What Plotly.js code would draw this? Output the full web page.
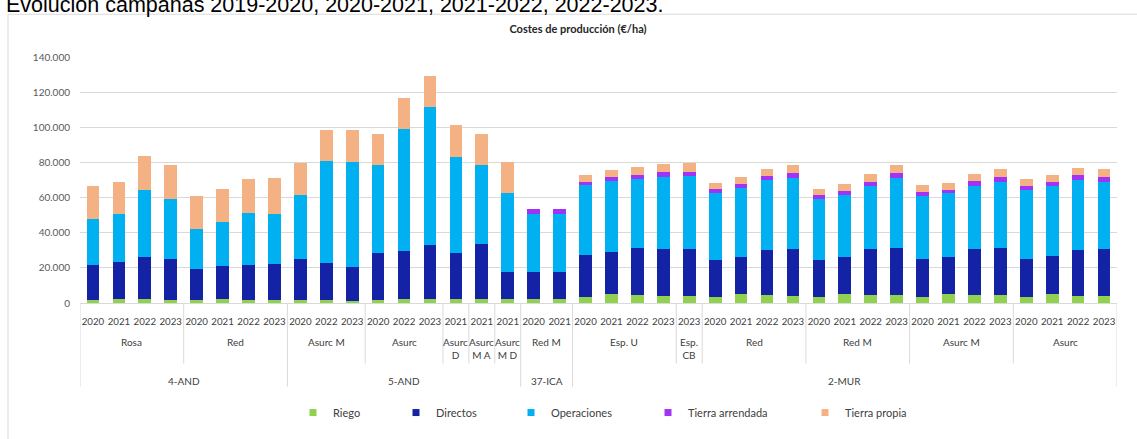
<!DOCTYPE html>
<html><head><meta charset="utf-8">
<script src="https://cdn.plot.ly/plotly-3.0.1.min.js"></script>
<style>html,body{margin:0;padding:0;background:#fff;overflow:hidden;}#chart{width:1137px;height:439px;}</style>
</head><body><div id="chart"></div>
<script>
// ---- data ----
const years = ['2020','2021','2022','2023', '2020','2021','2022','2023', '2020','2022','2023', '2020','2022','2023',
  '2021','2021','2021', '2020','2021', '2020','2021','2022','2023', '2023', '2020','2021','2022','2023',
  '2020','2021','2022','2023', '2020','2021','2022','2023', '2020','2021','2022','2023'];
const varieties = ['Rosa','Red','Asurc M','Asurc','Asurc<br>D','Asurc<br>M A','Asurc<br>M D','Red M','Esp. U','Esp.<br>CB','Red','Red M','Asurc M','Asurc'];
const varietyCounts = [4,4,3,3,1,1,1,2,4,1,4,4,4,4];
const regions = ['4-AND','5-AND','37-ICA','2-MUR'];
const regionCounts = [8,9,2,21];

const riego = [1500,2000,2000,1500, 1500,2000,1800,1500, 1500,1800,1300, 1800,2500,2500,
  2500,2200,2500, 2500,2500, 3300,5000,4400,4000, 4000, 3300,5000,4400,4000,
  3300,5000,4500,4400, 3300,5000,4500,4400, 3300,5000,4000,4000];
const directos = [20000,21300,24200,23800, 18000,18900,19700,20700, 23600,20700,19400, 26600,27100,30400,
  25700,31400,15300, 15300,15300, 24000,24100,26700,26500, 26900, 21100,21400,26000,26900,
  21100,21000,26000,26900, 21800,21400,26000,26900, 21800,21900,26400,26900];
const operaciones = [26100,27100,38300,33800, 22500,25100,30000,28700, 36500,58200,59800, 49900,69300,78400,
  55100,44900,44900, 32900,32900, 39600,40400,39400,41300, 41100, 38100,39100,39600,40400,
  34700,35500,35900,40000, 35800,36000,36200,37800, 39400,39600,39600,37800];
const tierraArrendada = [0,0,0,0, 0,0,0,0, 0,0,0, 0,0,0,
  0,0,0, 2900,2900, 1800,2100,2400,2600, 2500, 2200,2300,2400,2500,
  2200,2100,2500,2500, 2000,2100,2600,2700, 2200,2200,2700,2900];
const tierraPropia = [18800,18700,19100,19600, 18900,18700,19000,20000, 18200,18000,17900, 17900,17800,18000,
  18000,17900,17800, 0,0, 4000,3900,4400,4500, 5000, 3700,3700,4100,4600,
  3800,3900,4600,4700, 4000,3900,4300,4700, 3800,4000,4200,4600];

const seriesNames = ['Riego','Directos','Operaciones','Tierra arrendada','Tierra propia'];
const seriesValues = [riego, directos, operaciones, tierraArrendada, tierraPropia];
const seriesColors = ['#92d050','#1423a6','#00b0f0','#a033f5','#f4b183'];

// ---- geometry helpers (paper coords from page pixels) ----
const PL = 80, PW = 1037, PT = 57, PH = 256;
const px = X => (X - PL) / PW;
const py = Y => (PT + PH - Y) / PH;

const FONT = 'Lato, "Noto Sans", sans-serif';
const TXT = '#404040';
const LINE = '#d9d9d9';

const xIdx = years.map((_, i) => i);

const traces = [];
seriesNames.forEach((n, k) => {
  traces.push({
    type: 'bar', name: n, x: xIdx, y: seriesValues[k],
    marker: {color: seriesColors[k], line: {width: 0}},
    legendgroup: n, showlegend: false, hoverinfo: 'y+name'
  });
});
// legend entries (one legend per entry to match spacing)
const legendTextX = [333, 436, 551, 688, 845];
const legendKeys = ['legend','legend2','legend3','legend4','legend5'];
seriesNames.forEach((n, k) => {
  traces.push({
    type: 'scatter', mode: 'markers', name: n, x: [null], y: [null],
    marker: {symbol: 'square', size: 7, color: seriesColors[k]},
    legendgroup: n, showlegend: true, legend: legendKeys[k], hoverinfo: 'skip'
  });
});

const annotations = [];
const shapes = [];

// variety labels
let start = 0;
const varBounds = [];
varieties.forEach((v, i) => {
  const c = varietyCounts[i];
  annotations.push({
    text: v, xref: 'x', yref: 'paper', x: start + (c - 1) / 2, y: py(345),
    xanchor: 'center', yanchor: 'top', showarrow: false,
    font: {family: FONT, size: 10, color: TXT}
  });
  start += c;
  varBounds.push(start);
});
// region labels
start = 0;
const regBounds = [0];
regions.forEach((r, i) => {
  const c = regionCounts[i];
  annotations.push({
    text: r, xref: 'x', yref: 'paper', x: start + (c - 1) / 2, y: py(394),
    xanchor: 'center', yanchor: 'middle', showarrow: false,
    font: {family: FONT, size: 10, color: TXT}
  });
  start += c;
  regBounds.push(start);
});
// separators
varBounds.forEach(b => {
  if (regBounds.indexOf(b) === -1) {
    shapes.push({type: 'line', xref: 'x', yref: 'paper', x0: b - 0.5, x1: b - 0.5, y0: 0, y1: py(376),
      line: {color: LINE, width: 1}});
  }
});
regBounds.forEach(b => {
  shapes.push({type: 'line', xref: 'x', yref: 'paper', x0: b - 0.5, x1: b - 0.5, y0: 0, y1: py(400),
    line: {color: LINE, width: 1}});
});
// outer chart frame
shapes.push({type: 'rect', xref: 'paper', yref: 'paper', x0: px(8), x1: px(1160), y0: py(460), y1: py(12.5),
  line: {color: LINE, width: 1}, layer: 'below'});

// page heading (cut off at top, as in the source)
annotations.push({
  text: 'Evolución campañas 2019-2020, 2020-2021, 2021-2022, 2022-2023.',
  xref: 'paper', yref: 'paper', x: px(4), y: py(2.5), xanchor: 'left', yanchor: 'middle',
  showarrow: false, font: {family: '"Liberation Sans", Arial, sans-serif', size: 21.5, color: '#000'}
});

const layout = {
  width: 1137, height: 439,
  margin: {l: PL, r: 1137 - PL - PW, t: PT, b: 439 - PT - PH, pad: 0},
  paper_bgcolor: '#fff', plot_bgcolor: '#fff',
  separators: ',.',
  barmode: 'stack', bargap: 0.51,
  font: {family: FONT, size: 10, color: TXT},
  title: {text: 'Costes de producción (€/ha)', x: px(578), xref: 'paper', xanchor: 'center',
    y: 1 - 29 / 439, yref: 'container', yanchor: 'middle',
    font: {family: FONT, size: 11, color: '#262626', weight: 'bold'}},
  xaxis: {
    type: 'linear', range: [-0.5, years.length - 0.5],
    tickmode: 'array', tickvals: xIdx, ticktext: years,
    showgrid: false, zeroline: false, showline: true, linecolor: LINE, linewidth: 1,
    ticks: '', ticklabelstandoff: 9, tickfont: {family: FONT, size: 9.7, color: TXT},
    fixedrange: true
  },
  yaxis: {
    range: [0, 140000], dtick: 20000, tick0: 0, tickformat: ',d',
    showgrid: true, gridcolor: LINE, gridwidth: 1, zeroline: false, showline: false,
    ticks: '', ticklabelstandoff: 9, tickfont: {family: FONT, size: 10, color: '#595959'},
    fixedrange: true
  },
  annotations: annotations,
  shapes: shapes,
  showlegend: true
};
legendKeys.forEach((key, k) => {
  layout[key] = {
    orientation: 'h', x: px(legendTextX[k] - 40), xanchor: 'left', y: py(427), yanchor: 'middle',
    font: {family: FONT, size: 11, color: TXT}, bgcolor: 'rgba(0,0,0,0)', borderwidth: 0
  };
});

Plotly.newPlot('chart', traces, layout, {displayModeBar: false, staticPlot: false, responsive: false});
</script>
</body></html>
